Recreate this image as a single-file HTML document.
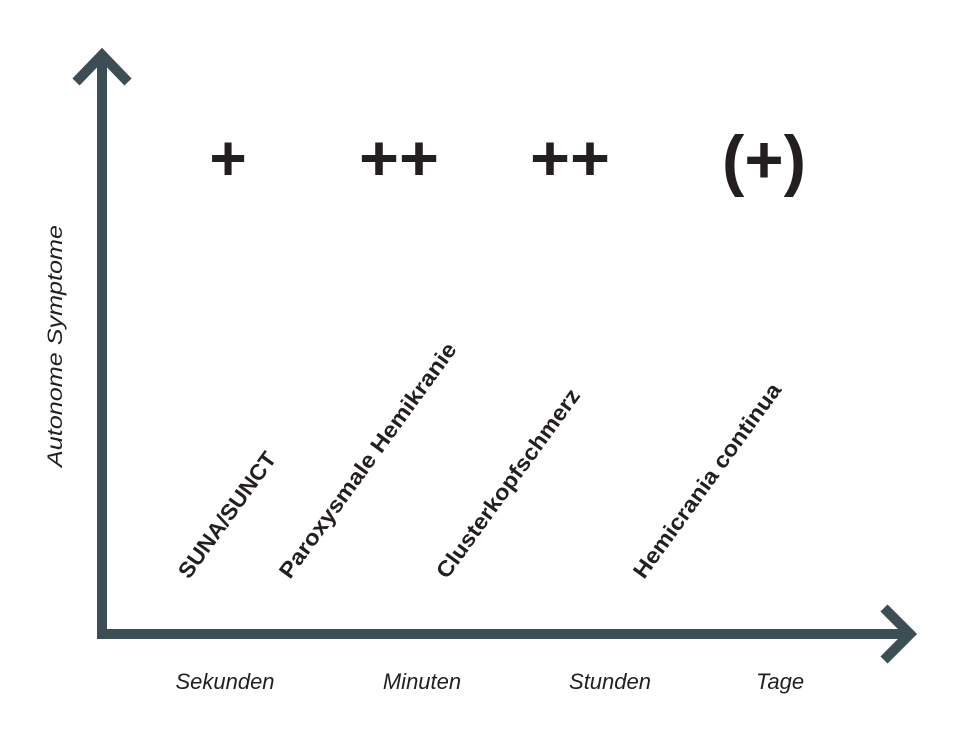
<!DOCTYPE html>
<html><head><style>
html,body{margin:0;padding:0;background:#fff;}
svg{display:block;}
</style></head><body>
<svg width="968" height="729" viewBox="0 0 968 729" xmlns="http://www.w3.org/2000/svg">
<g stroke="#3d4d54" stroke-width="10" fill="none" stroke-linecap="butt">
<line x1="102" y1="55" x2="102" y2="639"/>
<line x1="97" y1="634" x2="908" y2="634"/>
<polyline points="76,82 102,55 128,82" stroke-linejoin="miter"/>
<polyline points="884,608 910,634 884,660" stroke-linejoin="miter"/>
</g>
<g font-family="Liberation Sans, sans-serif" font-weight="bold" fill="#231f20" text-anchor="middle">
<text x="228" y="180" font-size="64">+</text>
<text x="399" y="180" font-size="64" textLength="80" lengthAdjust="spacingAndGlyphs">++</text>
<text x="570" y="180" font-size="64" textLength="80" lengthAdjust="spacingAndGlyphs">++</text>
<text x="764" y="183" font-size="68" textLength="84" lengthAdjust="spacingAndGlyphs">(+)</text>
</g>
<g font-family="Liberation Sans, sans-serif" font-weight="bold" font-size="22" fill="#231f20">
<text transform="translate(189,580) rotate(-54)" textLength="150" lengthAdjust="spacingAndGlyphs">SUNA/SUNCT</text>
<text transform="translate(290,580) rotate(-54)" textLength="285" lengthAdjust="spacingAndGlyphs">Paroxysmale Hemikranie</text>
<text transform="translate(447,580) rotate(-54)" textLength="228" lengthAdjust="spacingAndGlyphs">Clusterkopfschmerz</text>
<text transform="translate(644,580) rotate(-54)" textLength="235" lengthAdjust="spacingAndGlyphs">Hemicrania continua</text>
</g>
<g font-family="Liberation Sans, sans-serif" font-style="italic" font-size="22" fill="#231f20" text-anchor="middle">
<text x="225" y="689">Sekunden</text>
<text x="422" y="689">Minuten</text>
<text x="610" y="689">Stunden</text>
<text x="780" y="689">Tage</text>
<text transform="translate(62,346) rotate(-90)" font-size="21" textLength="242" lengthAdjust="spacingAndGlyphs">Autonome Symptome</text>
</g>
</svg>
</body></html>
